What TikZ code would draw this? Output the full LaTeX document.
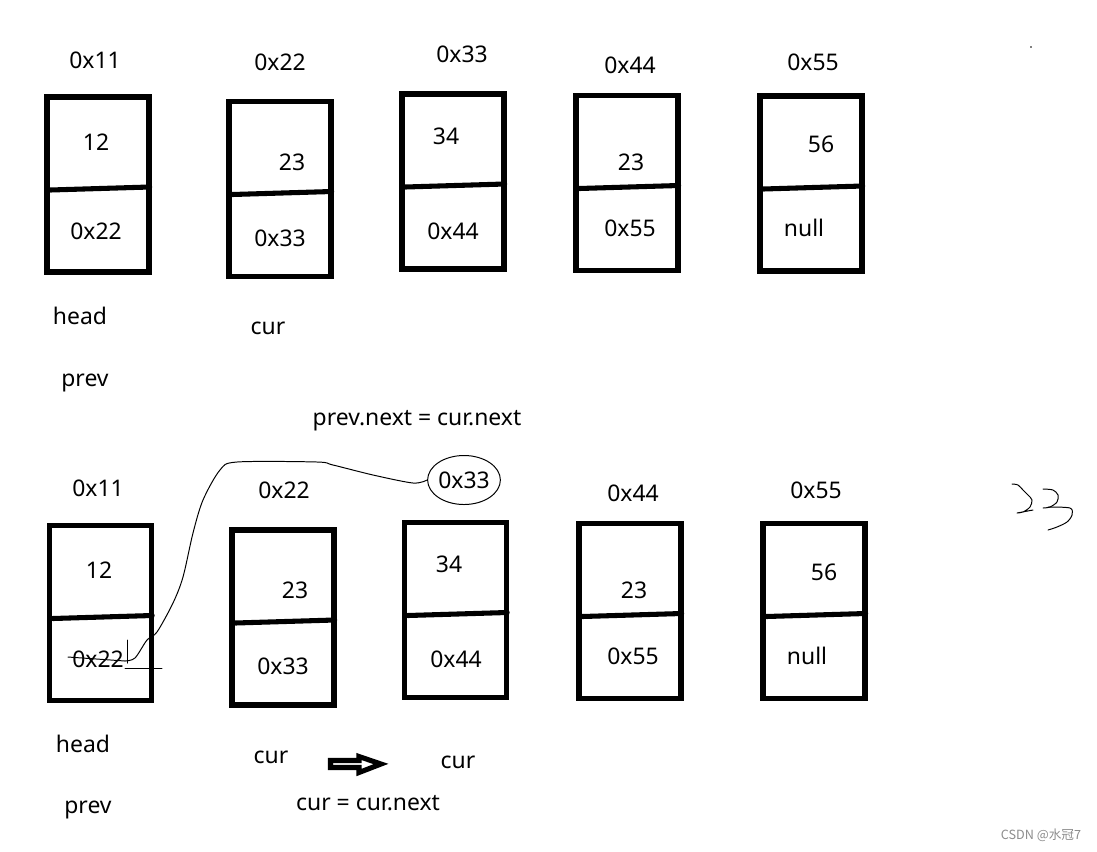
\documentclass[tikz,border=0pt]{standalone}
\usepackage{fontspec}
\setmainfont{Noto Sans}
\newfontfamily\cjkfont{Noto Sans CJK SC}
\usetikzlibrary{calc,shapes.geometric}

\begin{document}
\begin{tikzpicture}[x=0.025cm, y=-0.025cm,
  cell/.style={rectangle, draw, line width=3.8pt, minimum width=2.55cm, minimum height=4.375cm, inner sep=0},
  divider/.style={line width=3.6pt, line cap=round},
  lbl/.style={inner sep=0, font=\fontsize{16.3}{19}\selectfont, text height=11.6pt, text depth=0pt},
  scrawl/.style={line width=0.7pt, line cap=round, line join=round}]
  \useasboundingbox (0,0) rectangle (1097,851);
  % before deleting
  \node[cell] (t1) at (98,184.5) {};
  \node[cell] (t2) at (280,189) {};
  \node[cell] (t3) at (453,181.5) {};
  \node[cell] (t4) at (627,183) {};
  \node[cell] (t5) at (811,183.5) {};
  \draw[divider] ($(t1.west)+(6,5.5)$) -- ($(t1.east)+(-2,2.5)$);
  \draw[divider] ($(t2.west)+(6,5.5)$) -- ($(t2.east)+(-2,2.5)$);
  \draw[divider] ($(t3.west)+(6,5.5)$) -- ($(t3.east)+(-2,2.5)$);
  \draw[divider] ($(t4.west)+(6,5.5)$) -- ($(t4.east)+(-2,2.5)$);
  \draw[divider] ($(t5.west)+(6,5.5)$) -- ($(t5.east)+(-2,2.5)$);
  \node[lbl] (ta1) at (95,60) {0x11};
  \node[lbl] (ta2) at (280,62) {0x22};
  \node[lbl] (ta3) at (462,54) {0x33};
  \node[lbl] (ta4) at (630,65) {0x44};
  \node[lbl] (ta5) at (813,62) {0x55};
  \node[lbl] (tv1) at (96,142) {12};
  \node[lbl] (tv2) at (292,162) {23};
  \node[lbl] (tv3) at (446,136) {34};
  \node[lbl] (tv4) at (631,162) {23};
  \node[lbl] (tv5) at (821,144) {56};
  \node[lbl] (tn1) at (96,231) {0x22};
  \node[lbl] (tn2) at (280,238) {0x33};
  \node[lbl] (tn3) at (453,231) {0x44};
  \node[lbl] (tn4) at (630,228) {0x55};
  \node[lbl] (tn5) at (804,228) {null};
  \node[lbl] (thead) at (80,316) {head};
  \node[lbl] (tcur) at (268,326) {cur};
  \node[lbl] (tprev) at (85,378) {prev};
  \node[lbl] (step1) at (417,417) {prev.next = cur.next};
  % after deleting
  \node[cell] (b1) at (100.5,613) {};
  \node[cell] (b2) at (283,617.5) {};
  \node[cell] (b3) at (455.5,610) {};
  \node[cell] (b4) at (630,611) {};
  \node[cell] (b5) at (814,611) {};
  \draw[divider] ($(b1.west)+(6,5.5)$) -- ($(b1.east)+(-2,2.5)$);
  \draw[divider] ($(b2.west)+(6,5.5)$) -- ($(b2.east)+(-2,2.5)$);
  \draw[divider] ($(b3.west)+(6,5.5)$) -- ($(b3.east)+(-2,2.5)$);
  \draw[divider] ($(b4.west)+(6,5.5)$) -- ($(b4.east)+(-2,2.5)$);
  \draw[divider] ($(b5.west)+(6,5.5)$) -- ($(b5.east)+(-2,2.5)$);
  \node[lbl] (ba1) at (98,488) {0x11};
  \node[lbl] (ba2) at (284,490) {0x22};
  \node[lbl, ellipse, draw, scrawl, minimum width=1.75cm, minimum height=1.225cm] (newptr) at (464,480) {0x33};
  \node[lbl] (ba4) at (633,493) {0x44};
  \node[lbl] (ba5) at (816,490) {0x55};
  \node[lbl] (bv1) at (99,570) {12};
  \node[lbl] (bv2) at (295,590) {23};
  \node[lbl] (bv3) at (449,564) {34};
  \node[lbl] (bv4) at (634,590) {23};
  \node[lbl] (bv5) at (824,572) {56};
  \node[lbl] (bn1) at (98,659) {0x22};
  \node[lbl] (bn2) at (283,666) {0x33};
  \node[lbl] (bn3) at (456,659) {0x44};
  \node[lbl] (bn4) at (633,656) {0x55};
  \node[lbl] (bn5) at (807,656) {null};
  \node[lbl] (bhead) at (83,744) {head};
  \node[lbl] (bcur) at (271,755) {cur};
  \node[lbl] (bnext) at (458,760) {cur};
  \node[lbl] (bprev) at (88,805) {prev};
  \node[lbl] (step2) at (368,802) {cur = cur.next};
  % rewritten link
  \coordinate (oldptr) at (125,661);
  \draw[scrawl] plot[smooth, tension=0.5] coordinates {(newptr.west) (413,483) (373,475) (333,465) (317,462) (237,462) (220,470) (203,500) (193,533) (183,577) (173,603) (157,632) (147,640) (135,658) (oldptr)};
  \draw[scrawl] (68,657) -- (oldptr);
  \draw[scrawl] (127,640) -- (127,663);
  \draw[scrawl] (125,668) -- (162,668);
  % moving cur
  \draw[line width=3.6pt, line join=miter] (330.5,760.5) -- (359,760.5) -- (359,756.5) -- (381,764) -- (359,772.5) -- (359,767.5) -- (330.5,767.5) -- cycle;
  % scribbled 23
  \draw[scrawl] plot[smooth, tension=0.5] coordinates {(1012,484) (1018,485) (1023,490) (1028,495) (1032,500) (1030,507) (1023,512) (1017,513)} -- (1033,510);
  \draw[scrawl] plot[smooth, tension=0.5] coordinates {(1043,489) (1053,490) (1058,495) (1057,502) (1050,507) (1043,508)};
  \draw[scrawl] plot[smooth, tension=0.5] coordinates {(1048,507) (1070,508) (1072,515) (1067,522) (1057,527) (1048,530)};
  \fill (1031,47) circle (0.8);
  \node[inner sep=0, text=black!45, font=\cjkfont\fontsize{9}{11}\selectfont] (mark) at (1041,835) {CSDN @水冠7};
\end{tikzpicture}
\end{document}
